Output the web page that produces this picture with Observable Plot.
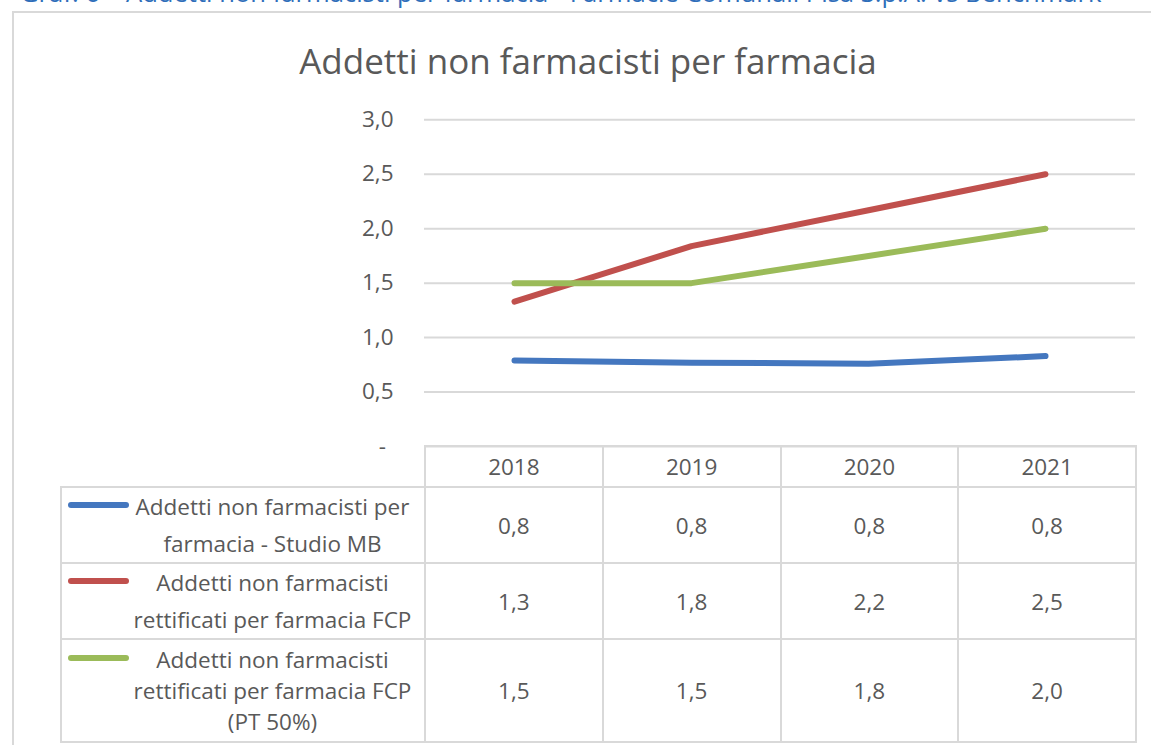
<!DOCTYPE html>
<html>
<head>
<meta charset="utf-8">
<script src="https://cdn.jsdelivr.net/npm/d3@7"></script>
<script src="https://cdn.jsdelivr.net/npm/@observablehq/plot@0.6"></script>
<style>
  html, body { margin: 0; padding: 0; background: #fff; }
  body { font-family: "Open Sans", "DejaVu Sans", sans-serif; color: #595959; }
  #page { position: relative; width: 1151px; height: 745px; overflow: hidden; background: #fff; }
  #caption { position: absolute; left: 20px; top: -20.5px; font-size: 25.6px; line-height: 26px; color: #2F6EBA; white-space: nowrap; }
  #frame { position: absolute; left: 12px; top: 11px; width: 1200px; height: 800px; border-left: 2px solid #d9d9d9; border-top: 2px solid #d9d9d9; box-sizing: border-box; }
  #title { position: absolute; left: 0; width: 1176px; top: 43px; text-align: center; font-size: 35px; line-height: 35px; color: #595959; white-space: nowrap; }
  #chart { position: absolute; left: 0; top: 100px; }
  #chart svg { overflow: visible; }
  #table { position: absolute; left: 60px; top: 445px; border-collapse: collapse; table-layout: fixed; font-size: 22.5px; color: #595959; }
  #table td, #table th { border: 2px solid #d9d9d9; text-align: center; vertical-align: middle; padding: 0; font-weight: normal; white-space: nowrap; }
  #table th.empty { border-top: none; border-left: none; }
  .legend { display: flex; align-items: center; padding-left: 6px; padding-right: 8px; }
  .swatch { width: 61px; height: 6px; border-radius: 3px; flex: none; align-self: flex-start; }
  .label { flex: 1; text-align: center; }
</style>
</head>
<body>
<div id="page">
  <div id="caption"></div>
  <div id="frame"></div>
  <div id="title"></div>
  <div id="chart"></div>
  <table id="table"></table>
</div>
<script>
const captionText = "Graf. 6 – Addetti non farmacisti per farmacia - Farmacie Comunali Pisa S.p.A. vs Benchmark";
const titleText = "Addetti non farmacisti per farmacia";
const years = ["2018", "2019", "2020", "2021"];
const seriesNames = [
  "Addetti non farmacisti per farmacia - Studio MB",
  "Addetti non farmacisti rettificati per farmacia FCP",
  "Addetti non farmacisti rettificati per farmacia FCP (PT 50%)"
];
const seriesLabelLines = [
  ["Addetti non farmacisti per", "farmacia - Studio MB"],
  ["Addetti non farmacisti", "rettificati per farmacia FCP"],
  ["Addetti non farmacisti", "rettificati per farmacia FCP", "(PT 50%)"]
];
const studioMB = [0.79, 0.77, 0.76, 0.83];
const fcp = [1.33, 1.84, 2.17, 2.50];
const fcpPT50 = [1.50, 1.50, 1.75, 2.00];
const seriesColors = ["#4477BF", "#C0504D", "#9BBB59"];
const yTicks = [0, 0.5, 1, 1.5, 2, 2.5, 3];

const seriesValues = [studioMB, fcp, fcpPT50];
const data = seriesValues.flatMap((vals, si) =>
  vals.map((v, i) => ({ series: seriesNames[si], year: years[i], value: v }))
);
const fmt = v => d3.format(".1f")(v).replace(".", ",");
const yFmt = v => v === 0 ? "-\u2009\u2009" : fmt(v);

document.getElementById("caption").textContent = captionText;
document.getElementById("title").textContent = titleText;

const plot = Plot.plot({
  width: 1151,
  height: 390,
  marginTop: 19.3,
  marginBottom: 44,
  marginLeft: 424,
  marginRight: 16,
  style: { fontFamily: "'Open Sans', sans-serif", fontSize: "22.5px", color: "#595959", background: "transparent" },
  x: { type: "point", domain: years, padding: 0.5, axis: null },
  y: { domain: [0, 3], axis: null },
  color: { domain: seriesNames, range: seriesColors },
  marks: [
    Plot.gridY(yTicks, { stroke: "#d9d9d9", strokeWidth: 2, strokeOpacity: 1 }),
    Plot.axisY(yTicks, { tickSize: 0, tickPadding: 31, tickFormat: yFmt, label: null, fill: "#595959", fontSize: 22.5 }),
    Plot.line(data, { x: "year", y: "value", z: "series", stroke: "series", strokeWidth: 6, strokeLinecap: "round", strokeLinejoin: "round" })
  ]
});
document.getElementById("chart").appendChild(plot);

// Data table aligned with the x scale
const xs = plot.scale("x");
const step = xs.range ? (xs.range[1] - xs.range[0]) / years.length : 177.75;
const firstColW = 424 - 60;
const table = document.getElementById("table");
const colgroup = document.createElement("colgroup");
[firstColW, ...years.map(() => step)].forEach(w => {
  const c = document.createElement("col");
  c.style.width = w + "px";
  colgroup.appendChild(c);
});
table.appendChild(colgroup);
table.style.width = (firstColW + step * years.length) + "px";

const head = document.createElement("tr");
head.style.height = "41px";
const empty = document.createElement("th");
empty.className = "empty";
head.appendChild(empty);
years.forEach(y => {
  const th = document.createElement("th");
  th.textContent = y;
  head.appendChild(th);
});
table.appendChild(head);

const rowHeights = [75, 75, 103];
const lineHeights = [37, 37, 31];
seriesNames.forEach((name, si) => {
  const tr = document.createElement("tr");
  tr.style.height = rowHeights[si] + "px";
  const td = document.createElement("td");
  const leg = document.createElement("div");
  leg.className = "legend";
  const sw = document.createElement("div");
  sw.className = "swatch";
  sw.style.background = seriesColors[si];
  sw.style.marginTop = (lineHeights[si] / 2 - 5) + "px";
  const lab = document.createElement("div");
  lab.className = "label";
  lab.style.lineHeight = lineHeights[si] + "px";
  lab.innerHTML = seriesLabelLines[si].join("<br>");
  leg.appendChild(sw);
  leg.appendChild(lab);
  td.appendChild(leg);
  tr.appendChild(td);
  seriesValues[si].forEach(v => {
    const c = document.createElement("td");
    c.textContent = fmt(v);
    tr.appendChild(c);
  });
  table.appendChild(tr);
});
</script>
</body>
</html>
